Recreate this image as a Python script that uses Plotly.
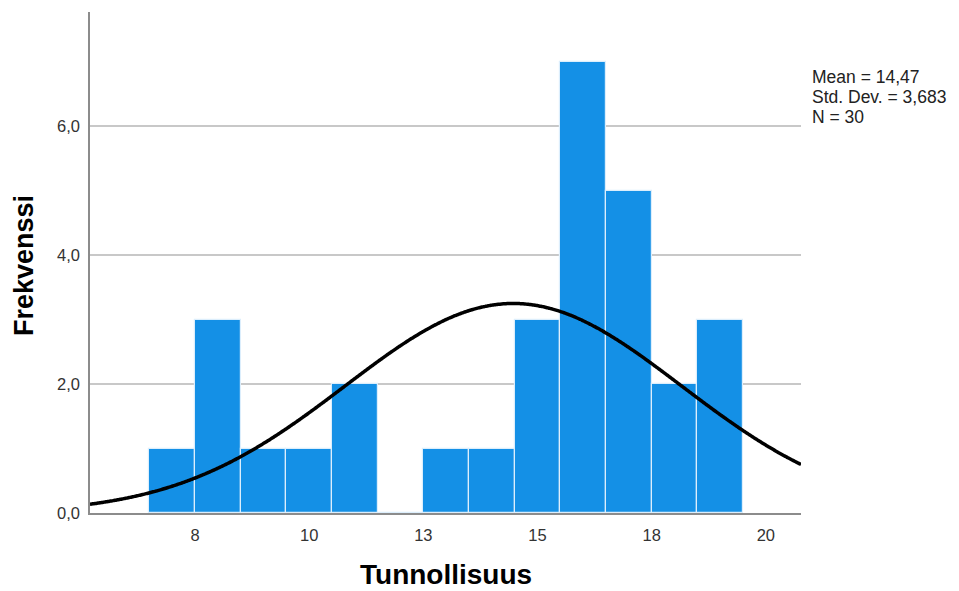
import numpy as np
import plotly.graph_objects as go

# Histogram of conscientiousness scores (bin width 1, centred on integers)
bin_centers = [7, 8, 9, 10, 11, 12, 13, 14, 15, 16, 17, 18, 19]
counts = [1, 3, 1, 1, 2, 0, 1, 1, 3, 7, 5, 2, 3]

mean_val = 14.47
std_val = 3.683
n_val = 30

x_tickvals = [7.5, 10, 12.5, 15, 17.5, 20]
x_ticktext = ["8", "10", "13", "15", "18", "20"]
y_tickvals = [0, 2, 4, 6]
y_ticktext = ["0,0", "2,0", "4,0", "6,0"]

stat_lines = ["Mean = 14,47", "Std. Dev. = 3,683", f"N = {n_val}"]
x_title = "Tunnollisuus"
y_title = "Frekvenssi"

x_range = [5.2, 20.77]
y_range = [0, 7.77]

W, H = 959, 591
plot_left, plot_right = 90, 801
plot_top, plot_bottom = 12, 513
plot_w = plot_right - plot_left
plot_h = plot_bottom - plot_top

# Fitted normal curve scaled to counts (N * bin width * pdf)
xs = np.linspace(x_range[0], x_range[1], 400)
ys = n_val * 1.0 / (std_val * np.sqrt(2 * np.pi)) * np.exp(-0.5 * ((xs - mean_val) / std_val) ** 2)

fig = go.Figure()
fig.add_trace(go.Bar(
    x=bin_centers, y=counts, width=1,
    marker=dict(color="#1490E6", line=dict(color="#DCEEFC", width=1.2)),
    hoverinfo="x+y",
))
fig.add_trace(go.Scatter(
    x=xs, y=ys, mode="lines",
    line=dict(color="black", width=3.5, shape="spline"),
    hoverinfo="skip",
))


def px_to_paper_x(px):
    return (px - plot_left) / plot_w


def px_to_paper_y(py):
    return (plot_bottom - py) / plot_h


annotations = []
# Summary statistics to the right of the plot area, one line each
for i, line in enumerate(stat_lines):
    annotations.append(dict(
        xref="paper", yref="paper", x=px_to_paper_x(810), y=px_to_paper_y(77 + i * 20),
        xanchor="left", yanchor="middle", align="left", showarrow=False,
        text=line, font=dict(size=17.5, color="#222222"),
    ))
# Axis titles
annotations.append(dict(
    xref="paper", yref="paper", x=px_to_paper_x(446), y=px_to_paper_y(574),
    xanchor="center", yanchor="middle", showarrow=False,
    text=f"<b>{x_title}</b>", font=dict(size=28, color="black"),
))
annotations.append(dict(
    xref="paper", yref="paper", x=px_to_paper_x(24), y=px_to_paper_y(266),
    xanchor="center", yanchor="middle", showarrow=False, textangle=-90,
    text=f"<b>{y_title}</b>", font=dict(size=27, color="black"),
))

fig.update_layout(
    width=W, height=H,
    margin=dict(l=plot_left, r=W - plot_right, t=plot_top, b=H - plot_bottom),
    paper_bgcolor="white", plot_bgcolor="white",
    showlegend=False,
    font=dict(family="Liberation Sans, Arial, sans-serif", size=16.5, color="#333333"),
    bargap=0,
    xaxis=dict(
        range=x_range, tickvals=x_tickvals, ticktext=x_ticktext,
        showgrid=False, zeroline=False, showline=True, linecolor="#8c8c8c", linewidth=1.5,
        ticks="", ticklen=0, ticklabelstandoff=6, automargin=False,
    ),
    yaxis=dict(
        range=y_range, tickvals=y_tickvals, ticktext=y_ticktext,
        showgrid=True, gridcolor="#c8c8c8", gridwidth=1.5,
        zeroline=False, showline=True, linecolor="#8c8c8c", linewidth=1.5,
        ticks="", ticklen=0, ticklabelstandoff=5, automargin=False,
    ),
    annotations=annotations,
)

fig.write_html("out.html")
